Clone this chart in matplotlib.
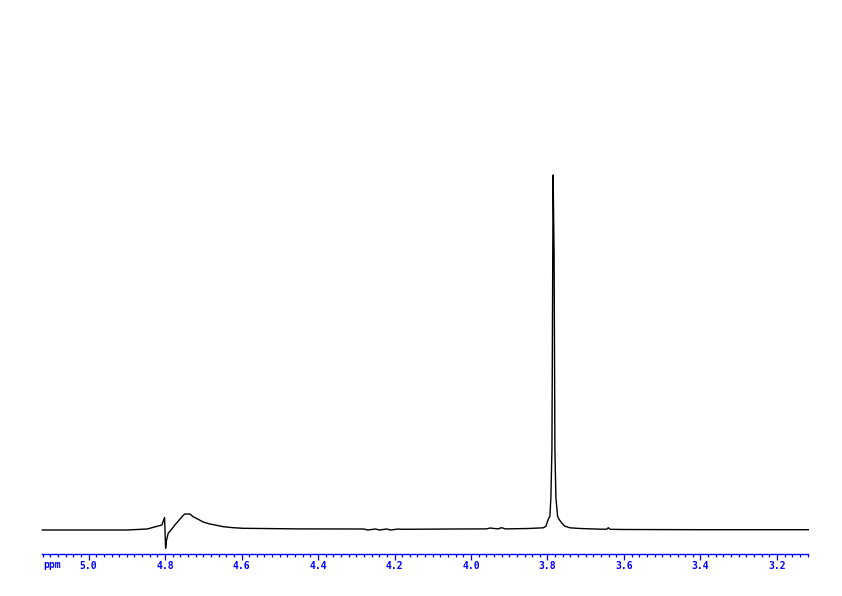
import matplotlib
matplotlib.use("Agg")
import matplotlib.pyplot as plt
from matplotlib.ticker import MultipleLocator, FormatStrFormatter

# spectrum trace: chemical shift (ppm) and intensity (arb.)
ppm = [5.121, 4.900, 4.8468, 4.8083, 4.8013, 4.7986, 4.7960, 4.7918, 4.7829,
       4.7743, 4.7631, 4.7526, 4.7482, 4.7351, 4.7265, 4.7134, 4.7003, 4.6828,
       4.6653, 4.6480, 4.6219, 4.5957, 4.45, 4.28, 4.27, 4.25, 4.24, 4.22,
       4.21, 4.19, 4.18, 4.05, 3.96, 3.95, 3.93, 3.92, 3.91, 3.85,
       3.8112, 3.8041, 3.7981, 3.7937, 3.7911, 3.7884, 3.7853, 3.7827, 3.7806,
       3.7780, 3.7735, 3.7694, 3.7631, 3.7544, 3.7414, 3.7152, 3.66, 3.645,
       3.641, 3.636, 3.60, 3.40, 3.118]
intensity = [-0.5, -0.5, 0.5, 4.5, 12.0, -18.8, -10.5, -3.8, 0.2,
             4.5, 9.5, 14.2, 15.5, 15.5, 12.8, 10.2, 7.5, 5.5,
             4.2, 2.8, 1.8, 1.2, 0.6, 0.5, -0.5, 0.5, -0.5, 0.5,
             -0.5, 0.5, 0.2, 0.5, 0.6, 1.5, 0.6, 1.8, 0.6, 1.0,
             1.7, 3.3, 10.0, 13.3, 31.7, 80.0, 354.5, 275.0, 80.0,
             32.0, 13.0, 10.0, 6.7, 3.3, 1.7, 1.0, 0.3, 0.3,
             1.8, 0.2, 0.0, -0.2, -0.2]

fig = plt.figure(figsize=(8.42, 5.96), dpi=100)
ax = fig.add_axes([42.3 / 842, 42.5 / 596, 766 / 842, 553.5 / 596])
ax.plot(ppm, intensity, color="black", lw=1.0, clip_on=False)
ax.set_xlim(5.121, 3.118)
ax.set_ylim(-24, 529.5)

for side in ("top", "left", "right"):
    ax.spines[side].set_visible(False)
ax.spines["bottom"].set_color("blue")
ax.spines["bottom"].set_linewidth(1.0)
ax.set_yticks([])

ax.xaxis.set_major_locator(MultipleLocator(0.2))
ax.xaxis.set_minor_locator(MultipleLocator(0.02))
ax.xaxis.set_major_formatter(FormatStrFormatter("%.1f"))
ax.tick_params(axis="x", which="major", direction="out", length=4, width=0.9,
               color="blue", labelcolor="blue", labelsize=7, pad=1.5)
ax.tick_params(axis="x", which="minor", direction="out", length=2.2, width=0.9,
               color="blue")
for lab in ax.get_xticklabels():
    lab.set_family("DejaVu Sans Mono")
    lab.set_weight("bold")

fig.text(43 / 842, 1 - 565 / 596, "ppm", color="blue", fontsize=7,
         family="DejaVu Sans Mono", weight="bold", ha="left", va="center")

fig.savefig("out.png", dpi=100)
